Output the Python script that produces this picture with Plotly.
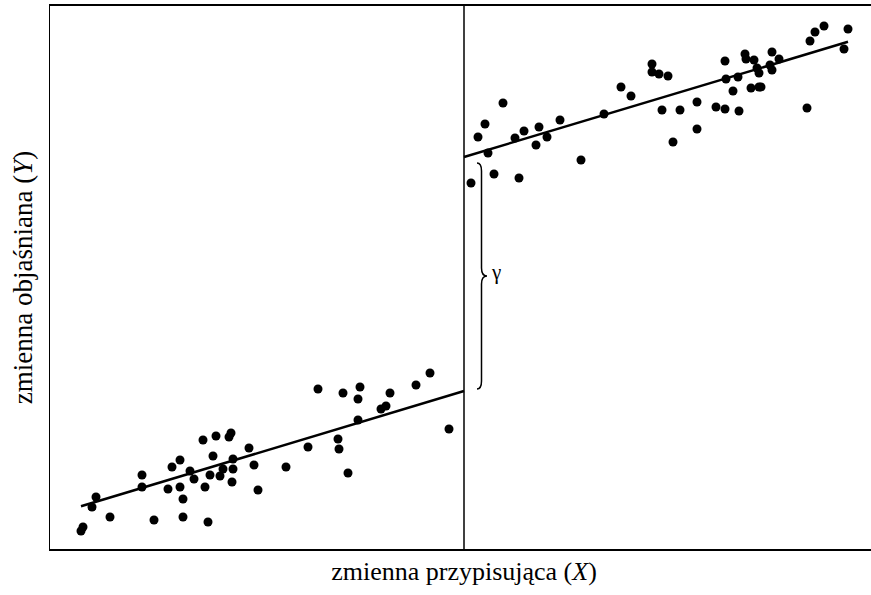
import numpy as np
import plotly.graph_objects as go

# Running variable centred on the cutoff (x = 0); outcome in arbitrary units
left_x = [-38.3, -38.1, -37.2, -36.8, -35.4, -32.2, -32.2, -31.0, -29.6, -29.2,
          -28.4, -28.4, -28.1, -28.1, -27.4, -27.0, -26.1, -25.9, -25.6, -25.4,
          -25.1, -24.8, -24.4, -24.1, -23.5, -23.3, -23.2, -23.1, -23.1, -21.5,
          -21.0, -20.6, -17.8, -15.6, -14.6, -12.6, -12.5, -12.1, -11.6, -10.4,
          -10.6, -10.6, -8.3, -7.8, -7.4, -4.8, -3.4, -1.5]
left_y = [1.8, 2.2, 4.2, 5.2, 3.2, 7.4, 6.2, 2.9, 6.0, 8.2,
          8.9, 6.2, 5.0, 3.2, 7.8, 7.0, 10.9, 6.2, 2.7, 7.4,
          9.3, 11.3, 7.3, 8.0, 11.2, 11.6, 6.7, 9.0, 8.0, 10.1,
          8.4, 5.9, 8.2, 10.2, 16.0, 11.0, 10.0, 15.6, 7.6, 16.2,
          15.0, 12.9, 14.0, 14.3, 15.6, 16.4, 17.6, 12.0]

right_x = [0.7, 1.4, 2.1, 2.4, 3.0, 3.9, 5.1, 5.5, 6.0, 7.2,
           7.5, 8.3, 9.6, 11.7, 14.0, 15.7, 16.7, 18.8, 18.8, 19.5,
           20.4, 19.8, 20.9, 21.6, 23.3, 23.3, 25.2, 26.1, 26.1, 26.2,
           26.9, 27.4, 27.5, 28.1, 28.2, 28.7, 29.0, 29.3, 29.5, 29.5,
           29.7, 30.6, 30.8, 30.8, 31.5, 34.3, 34.6, 35.1, 36.0, 38.0, 38.4]
right_y = [36.6, 41.2, 42.5, 39.6, 37.5, 44.6, 41.1, 37.1, 41.8, 40.4,
           42.2, 41.2, 42.9, 38.9, 43.5, 46.2, 45.3, 48.5, 47.7, 47.5,
           47.3, 43.9, 40.7, 43.9, 44.7, 42.0, 44.2, 48.8, 44.0, 47.0,
           45.8, 47.2, 43.8, 49.5, 49.0, 46.1, 48.9, 48.1, 47.6, 46.2,
           46.2, 48.4, 49.7, 47.9, 49.0, 44.1, 50.8, 51.7, 52.3, 50.0, 52.0]

# Fitted lines: [start x, end x], intercept at cutoff, slope
left_fit_x = [-38.3, 0.0]
left_intercept = 15.8
left_slope = 0.301
right_fit_x = [0.0, 38.4]
right_intercept = 39.2
right_slope = 0.300

cutoff = 0.0
x_range = [-41.4, 41.4]
y_range = [0.0, 54.3]

SERIF = "Liberation Serif"

fig = go.Figure()

fig.add_trace(go.Scatter(x=left_x, y=left_y, mode="markers",
                         marker=dict(size=9, color="black", line=dict(width=0)),
                         showlegend=False, hoverinfo="skip"))
fig.add_trace(go.Scatter(x=right_x, y=right_y, mode="markers",
                         marker=dict(size=9, color="black", line=dict(width=0)),
                         showlegend=False, hoverinfo="skip"))

lx = np.array(left_fit_x)
rx = np.array(right_fit_x)
fig.add_trace(go.Scatter(x=lx, y=left_intercept + left_slope * (lx - cutoff), mode="lines",
                         line=dict(color="black", width=2.5), showlegend=False, hoverinfo="skip"))
fig.add_trace(go.Scatter(x=rx, y=right_intercept + right_slope * (rx - cutoff), mode="lines",
                         line=dict(color="black", width=2.5), showlegend=False, hoverinfo="skip"))

# Cutoff line
fig.add_shape(type="line", x0=cutoff, x1=cutoff, y0=0, y1=1, xref="x", yref="paper",
              line=dict(color="black", width=1.5))

# Curly brace showing the jump gamma
y_top = right_intercept - 0.6
y_bot = left_intercept + 0.2
y_mid = (y_top + y_bot) / 2
xe = cutoff + 1.3
xv = cutoff + 1.75
xt = cutoff + 2.3
d = 0.8
path = (f"M {xe},{y_top} Q {xv},{y_top} {xv},{y_top - d} "
        f"L {xv},{y_mid + d} Q {xv},{y_mid} {xt},{y_mid} "
        f"Q {xv},{y_mid} {xv},{y_mid - d} "
        f"L {xv},{y_bot + d} Q {xv},{y_bot} {xe},{y_bot}")
fig.add_shape(type="path", path=path, xref="x", yref="y",
              line=dict(color="black", width=1.5))
fig.add_annotation(x=xt + 0.2, y=y_mid + 0.4, text="γ", showarrow=False,
                   xanchor="left", yanchor="middle",
                   font=dict(family=SERIF, size=21, color="black"))

fig.update_layout(
    width=878, height=595,
    margin=dict(l=50, r=0, t=6, b=46),
    paper_bgcolor="white", plot_bgcolor="white",
    font=dict(family=SERIF, color="black"),
    xaxis=dict(range=x_range, showgrid=False, zeroline=False, showticklabels=False,
               ticks="", showline=True, linecolor="black", linewidth=1.5, mirror=True,
               title=dict(text="zmienna przypisująca (<i>X</i>)",
                          font=dict(family=SERIF, size=26, color="black"), standoff=12)),
    yaxis=dict(range=y_range, showgrid=False, zeroline=False, showticklabels=False,
               ticks="", showline=True, linecolor="black", linewidth=1.2, mirror=True,
               title=dict(text="zmienna objaśniana (<i>Y</i>)",
                          font=dict(family=SERIF, size=27, color="black"), standoff=8)),
)

fig.write_html("out.html", config={"displayModeBar": False},
               post_script="document.body.style.margin='0';document.body.style.overflow='hidden';")
